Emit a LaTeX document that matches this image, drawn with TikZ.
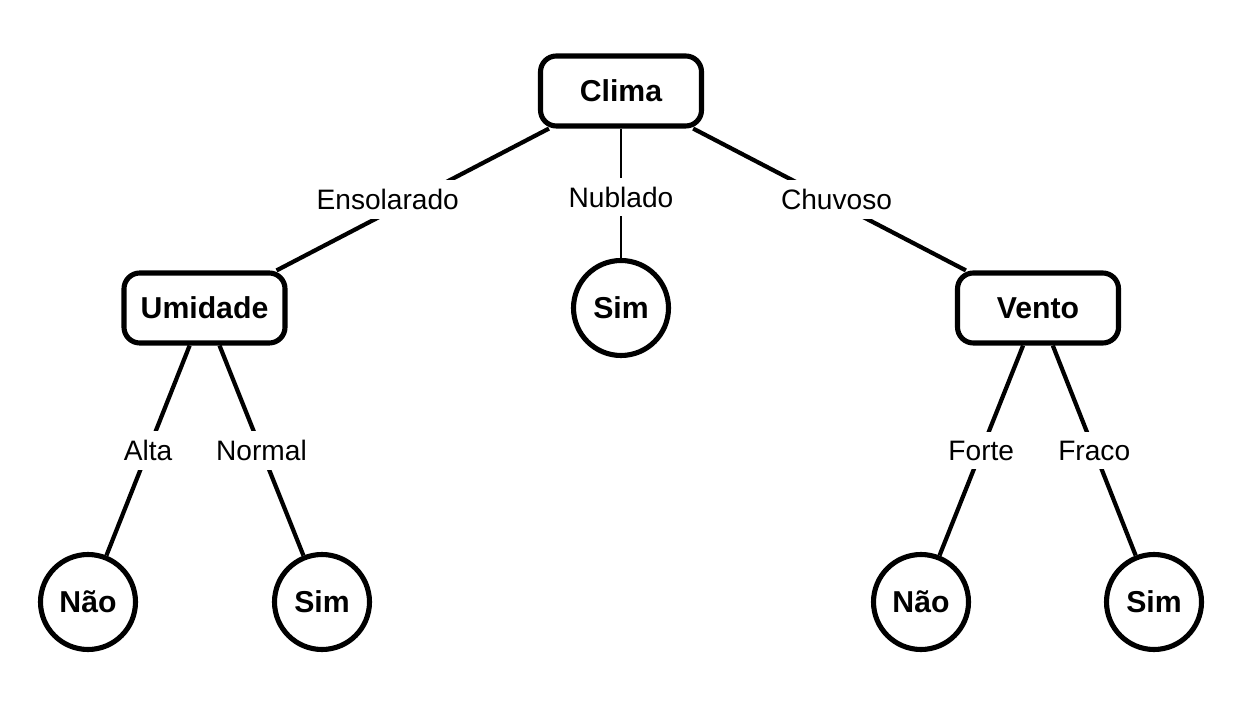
\documentclass[tikz,border=0pt]{standalone}
\usepackage{fontspec}
\setmainfont{Liberation Sans}
\usepackage{tikz}
\usetikzlibrary{positioning,calc}

\begin{document}
\begin{tikzpicture}[
          every node/.style={font=\fontsize{8}{10}\selectfont},
          attr/.style={draw, line width=1.45pt, rectangle, rounded corners=4.5pt, fill=white, minimum width=1.61cm, minimum height=0.70cm, font=\fontsize{8.6}{10}\selectfont\bfseries},
          leaf/.style={draw, line width=1.45pt, circle, fill=white, minimum size=0.95cm, inner sep=0pt, font=\fontsize{8.6}{10}\selectfont\bfseries},
          branch/.style={line width=1.2pt},
          val/.style={fill=white, inner sep=2.5pt, midway}
      ]
        \useasboundingbox (0,0) rectangle (12.42,-7.08);

        \node[attr] (clima) at (6.21,-0.91) {Clima};
        \node[attr] (umidade) at (2.045,-3.08) {Umidade};
        \node[leaf] (nublado) at (6.21,-3.08) {Sim};
        \node[attr] (vento) at (10.38,-3.08) {Vento};

        \node[leaf] (naoA) at (0.88,-6.02) {Não};
        \node[leaf] (simA) at (3.22,-6.02) {Sim};
        \node[leaf] (naoB) at (9.21,-6.02) {Não};
        \node[leaf] (simB) at (11.54,-6.02) {Sim};

        \draw[branch] (clima) -- node[val, xshift=-0.25cm] {Ensolarado} (umidade);
        \draw[line width=0.45pt] (clima) -- node[val, yshift=-0.04cm] {Nublado} (nublado);
        \draw[branch] (clima) -- node[val, xshift=0.07cm] {Chuvoso} (vento);

        \draw[branch] (umidade) -- node[val] {Alta} (naoA);
        \draw[branch] (umidade) -- node[val] {Normal} (simA);
        \draw[branch] (vento) -- node[val] {Forte} (naoB);
        \draw[branch] (vento) -- node[val] {Fraco} (simB);
      \end{tikzpicture}
\end{document}
